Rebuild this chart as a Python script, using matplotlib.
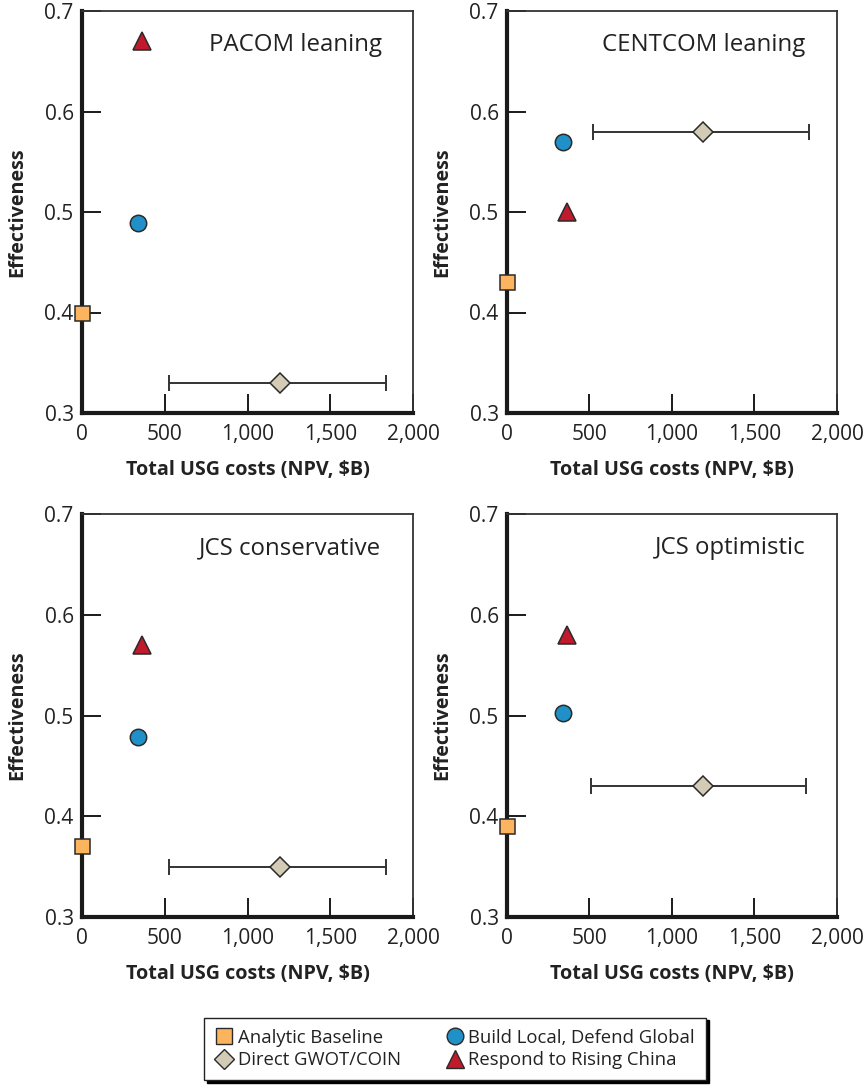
import matplotlib
matplotlib.use("Agg")
import matplotlib.pyplot as plt
from matplotlib.lines import Line2D

plt.rcParams['font.family'] = ['Open Sans', 'DejaVu Sans']

panels = ["PACOM leaning", "CENTCOM leaning", "JCS conservative", "JCS optimistic"]
series = ["Analytic Baseline", "Direct GWOT/COIN", "Build Local, Defend Global", "Respond to Rising China"]

baseline_x = [0, 0, 0, 0]
baseline_y = [0.40, 0.43, 0.37, 0.39]
gwot_x = [1195, 1190, 1195, 1185]
gwot_y = [0.33, 0.58, 0.35, 0.43]
gwot_lo = [525, 520, 525, 510]
gwot_hi = [1835, 1830, 1835, 1815]
build_x = [340, 340, 340, 340]
build_y = [0.489, 0.570, 0.479, 0.502]
china_x = [362, 362, 362, 362]
china_y = [0.670, 0.500, 0.570, 0.580]

xticks = [0, 500, 1000, 1500, 2000]
xticklabels = ["0", "500", "1,000", "1,500", "2,000"]
yticks = [0.3, 0.4, 0.5, 0.6, 0.7]
yticklabels = ["0.3", "0.4", "0.5", "0.6", "0.7"]

c_base = "#FDB45E"
c_gwot = "#D3CBB5"
c_build = "#1F91C8"
c_china = "#C01A2C"
edge = "#2a2a2a"

fig = plt.figure(figsize=(8.67, 10.86), dpi=100)
W, H = 867, 1086
boxes = [(82, 11, 413, 413), (507, 11, 837, 413), (82, 514, 413, 917), (507, 514, 837, 917)]

for i, (l, t, r, b) in enumerate(boxes):
    ax = fig.add_axes([l / W, 1 - b / H, (r - l) / W, (b - t) / H])
    ax.set_xlim(0, 2000)
    ax.set_ylim(0.3, 0.7)
    for s in ["left", "bottom"]:
        ax.spines[s].set_linewidth(3.0)
        ax.spines[s].set_color("#1a1a1a")
    for s in ["top", "right"]:
        ax.spines[s].set_linewidth(1.3)
        ax.spines[s].set_color("#333333")
    ax.set_xticks(xticks)
    ax.set_xticklabels(xticklabels)
    ax.set_yticks(yticks)
    ax.set_yticklabels(yticklabels)
    ax.tick_params(axis="both", direction="in", length=14, width=1.4, color="#1a1a1a",
                   labelsize=15, labelcolor="#222222")
    ax.tick_params(axis="y", pad=6)
    ax.tick_params(axis="x", pad=8)
    ax.set_ylabel("Effectiveness", fontsize=14.2, fontweight="bold", labelpad=12, color="#222222")
    ax.set_xlabel("Total USG costs (NPV, $B)", fontsize=14.2, fontweight="bold", labelpad=11, color="#222222")
    ax.text(0.905, 0.915, panels[i], transform=ax.transAxes, ha="right", va="center",
            fontsize=17.3, color="#222222")

    ax.errorbar([gwot_x[i]], [gwot_y[i]],
                xerr=[[gwot_x[i] - gwot_lo[i]], [gwot_hi[i] - gwot_x[i]]],
                fmt="none", ecolor="#333333", elinewidth=1.4, capsize=6, capthick=1.4, zorder=3)
    ax.plot([gwot_x[i]], [gwot_y[i]], marker="D", ms=10, mfc=c_gwot, mec=edge, mew=1.1,
            linestyle="none", zorder=4)
    ax.plot([build_x[i]], [build_y[i]], marker="o", ms=11.8, mfc=c_build, mec=edge, mew=1.1,
            linestyle="none", zorder=4)
    ax.plot([china_x[i]], [china_y[i]], marker="^", ms=12.8, mfc=c_china, mec=edge, mew=1.1,
            linestyle="none", zorder=4)
    ax.plot([baseline_x[i]], [baseline_y[i]], marker="s", ms=10.8, mfc=c_base, mec=edge, mew=1.1,
            linestyle="none", zorder=5, clip_on=False)

handles = [
    Line2D([], [], marker="s", ms=11, mfc=c_base, mec=edge, mew=1.0, linestyle="none"),
    Line2D([], [], marker="D", ms=10, mfc=c_gwot, mec=edge, mew=1.0, linestyle="none"),
    Line2D([], [], marker="o", ms=12, mfc=c_build, mec=edge, mew=1.0, linestyle="none"),
    Line2D([], [], marker="^", ms=13, mfc=c_china, mec=edge, mew=1.0, linestyle="none"),
]
leg = fig.legend(handles, series, ncol=2, loc="center", bbox_to_anchor=(455 / W, 1 - 1049 / H),
                 fontsize=13.3, frameon=True, fancybox=False, edgecolor="#222222",
                 handletextpad=0.25, columnspacing=2.4, handlelength=1.0, labelspacing=0.25,
                 borderpad=0.6, shadow={"color": "black", "alpha": 1.0})
leg.get_frame().set_linewidth(1.0)
for t in leg.get_texts():
    t.set_color("#222222")

fig.savefig("out.png", dpi=100)
